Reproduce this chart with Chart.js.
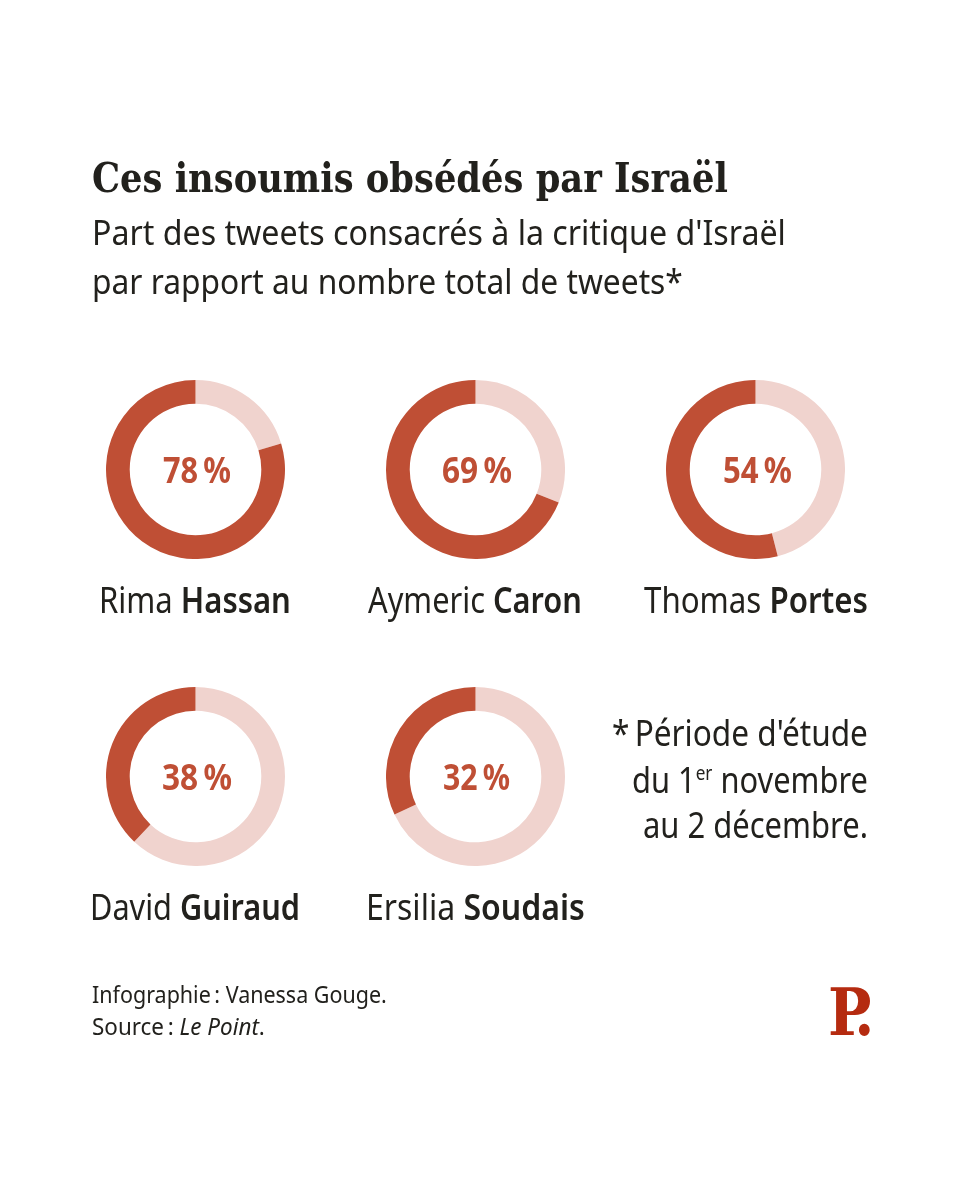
<!DOCTYPE html>
<html lang="fr">
<head>
<meta charset="utf-8">
<title>Ces insoumis obsédés par Israël</title>
<script src="https://cdn.jsdelivr.net/npm/chart.js@4"></script>
<style>
  html, body { margin: 0; padding: 0; background: #fff; }
  #page { position: relative; width: 960px; height: 1200px; overflow: hidden; }
  #page canvas { position: absolute; }
  #texts { position: absolute; left: 0; top: 0; }
  #texts text { font-family: "Noto Sans", sans-serif; fill: #22211d; }
</style>
</head>
<body>
<div id="page">
  <svg id="texts" width="960" height="1200" xmlns="http://www.w3.org/2000/svg"></svg>
</div>
<script>
const firstNames = ['Rima', 'Aymeric', 'Thomas', 'David', 'Ersilia'];
const lastNames = ['Hassan', 'Caron', 'Portes', 'Guiraud', 'Soudais'];
const printedShare = [78, 69, 54, 38, 32];
// the arcs as drawn: the first ring is a little fuller than its label says
const darkArc = [79.7, 69, 54, 38, 32];
const lightArc = [20.3, 31, 46, 62, 68];

const darkRed = '#bf4f35';
const lightRed = '#f0d3ce';

// ring centres and where each name / value line sits
const centers = [[195, 469], [475, 469], [755, 469], [195, 776], [475, 776]];
const nameSpans = [[99, 291], [368, 582], [644, 868], [90, 300], [366, 585]];
const valueSpans = [[163, 231], [442, 512], [723, 792], [162, 232], [443, 510]];
const ringSize = 179;

const page = document.getElementById('page');
const svg = document.getElementById('texts');
const SVG_NS = 'http://www.w3.org/2000/svg';

// one line of text, squeezed to the width it has in the reference
function addLine(parts, x1, x2, baseline, size, style) {
  const el = document.createElementNS(SVG_NS, 'text');
  el.setAttribute('font-size', size);
  if (style) el.setAttribute('style', style);
  parts.forEach((part) => {
    const span = document.createElementNS(SVG_NS, 'tspan');
    span.textContent = part.text;
    if (part.style) span.setAttribute('style', part.style);
    if (part.dy) span.setAttribute('dy', part.dy);
    el.appendChild(span);
  });
  svg.appendChild(el);
  const scale = (x2 - x1) / el.getBBox().width;
  el.setAttribute('transform', `translate(${x1} ${baseline}) scale(${scale} 1)`);
}

darkArc.forEach((arc, i) => {
  const canvas = document.createElement('canvas');
  canvas.style.left = (centers[i][0] - ringSize / 2) + 'px';
  canvas.style.top = (centers[i][1] - ringSize / 2) + 'px';
  canvas.style.width = ringSize + 'px';
  canvas.style.height = ringSize + 'px';
  canvas.width = ringSize;
  canvas.height = ringSize;
  page.insertBefore(canvas, svg);

  new Chart(canvas, {
    type: 'doughnut',
    data: {
      labels: ['Autres tweets', 'Critique d\'Israël'],
      datasets: [{
        data: [lightArc[i], arc],
        backgroundColor: [lightRed, darkRed],
        borderWidth: 0
      }]
    },
    options: {
      responsive: false,
      animation: false,
      cutout: '73.5%',
      plugins: { legend: { display: false }, tooltip: { enabled: false } }
    }
  });

  const baseOffset = centers[i][1] < 600 ? 0 : 307;
  addLine([{ text: printedShare[i] + '\u202f%' }], valueSpans[i][0], valueSpans[i][1], 483 + baseOffset, 36,
    'font-weight:700;fill:' + darkRed);
  addLine([{ text: firstNames[i] + ' ' }, { text: lastNames[i], style: 'font-weight:600' }],
    nameSpans[i][0], nameSpans[i][1], 613 + baseOffset, 36);
});

addLine([{ text: 'Ces insoumis obsédés par Israël' }], 92, 728, 192, 41,
  'font-family:"DejaVu Serif",serif;font-weight:700');
addLine([{ text: 'Part des tweets consacrés à la critique d\'Israël' }], 92, 786, 245, 35);
addLine([{ text: 'par rapport au nombre total de tweets*' }], 92, 683, 294, 35);

addLine([{ text: '*\u202fPériode d\'étude' }], 612, 868, 746, 36);
addLine([{ text: 'du 1' }, { text: 'er', style: 'font-size:20px', dy: '-13' }, { text: ' novembre', dy: '13' }],
  632, 868, 793, 36);
addLine([{ text: 'au 2 décembre.' }], 643, 868, 838, 36);

addLine([{ text: 'Infographie\u202f: Vanessa Gouge.' }], 92, 387, 1003, 24);
addLine([{ text: 'Source\u202f: ' }, { text: 'Le Point', style: 'font-style:italic' }, { text: '.' }], 92, 265, 1035, 24);

// logo: the dot sits under the bowl of the P
addLine([{ text: 'P.' }], 828, 870, 1035, 66,
  'font-family:"DejaVu Serif",serif;font-weight:700;letter-spacing:-8.7px;fill:#b52b10');
</script>
</body>
</html>
